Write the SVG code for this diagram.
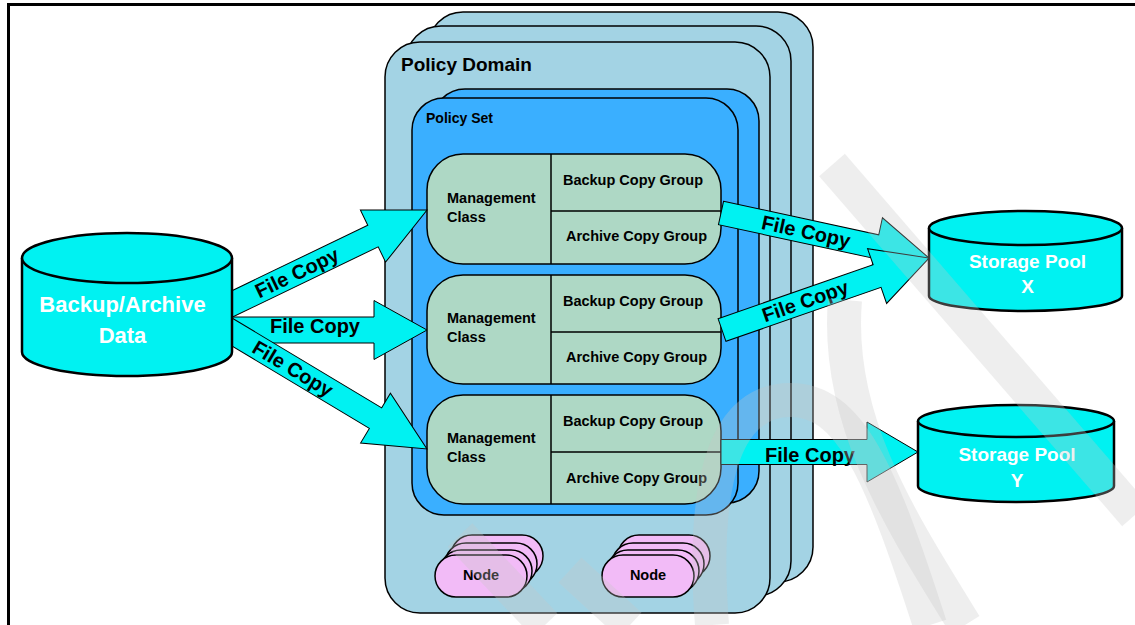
<svg xmlns="http://www.w3.org/2000/svg" width="1135" height="625" viewBox="0 0 1135 625">
<defs>
<style>
.dom{fill:#A3D3E4;stroke:#000;stroke-width:1.5}
.ps{fill:#3AAFFF;stroke:#000;stroke-width:1.5}
.mc{fill:#AED8C5;stroke:#000;stroke-width:1.5}
.div{stroke:#000;stroke-width:1.5;fill:none}
.node{fill:#F2BBF7;stroke:#000;stroke-width:1.5}
.cyl{fill:#00F2F2;stroke:#000;stroke-width:2.5}
.arr{fill:#00F2F2;stroke:#000;stroke-width:1}
.t{font-family:"Liberation Sans",Arial,sans-serif;font-weight:bold;fill:#000}
.w{fill:#fff}
.mct{font-size:14.5px}
.fc{font-size:20px}
.wm{fill:none;stroke:#C8C8C8;stroke-width:34;opacity:0.3}
</style>
</defs>
<rect x="0" y="0" width="1135" height="625" fill="#fff"/>
<path d="M8.5,625 V4.5 H1135" fill="none" stroke="#000" stroke-width="3"/>

<g id="policy-domain">
<rect class="dom" x="428" y="12" width="385" height="570" rx="35"/>
<rect class="dom" x="406" y="26" width="385" height="570" rx="35"/>
<rect class="dom" x="385" y="42" width="385" height="571" rx="35"/>
<text class="t" x="401" y="71" font-size="19">Policy Domain</text>
</g>

<g id="policy-set">
<rect class="ps" x="433" y="89" width="326" height="414" rx="32"/>
<rect class="ps" x="412" y="98" width="326" height="417" rx="32"/>
<text class="t" x="426" y="123" font-size="14">Policy Set</text>
</g>

<g id="mc1">
<rect class="mc" x="427" y="154" width="294" height="110" rx="36"/>
<path class="div" d="M551,154 V264 M551,211 H721"/>
<text class="t mct" x="447" y="203">Management</text>
<text class="t mct" x="447" y="222">Class</text>
<text class="t mct" x="633" y="185" text-anchor="middle">Backup Copy Group</text>
<text class="t mct" x="636.5" y="241" text-anchor="middle">Archive Copy Group</text>
</g>
<g id="mc2">
<rect class="mc" x="427" y="275" width="294" height="109" rx="36"/>
<path class="div" d="M551,275 V384 M551,332 H721"/>
<text class="t mct" x="447" y="323">Management</text>
<text class="t mct" x="447" y="342">Class</text>
<text class="t mct" x="633" y="306" text-anchor="middle">Backup Copy Group</text>
<text class="t mct" x="636.5" y="362" text-anchor="middle">Archive Copy Group</text>
</g>
<g id="mc3">
<rect class="mc" x="427" y="395" width="294" height="109" rx="36"/>
<path class="div" d="M551,395 V504 M551,452 H721"/>
<text class="t mct" x="447" y="443">Management</text>
<text class="t mct" x="447" y="462">Class</text>
<text class="t mct" x="633" y="426" text-anchor="middle">Backup Copy Group</text>
<text class="t mct" x="636.5" y="483" text-anchor="middle">Archive Copy Group</text>
</g>

<g id="node1">
<rect class="node" x="451" y="535" width="92" height="42" rx="21"/>
<rect class="node" x="445" y="543" width="92" height="42" rx="21"/>
<rect class="node" x="440" y="550" width="92" height="42" rx="21"/>
<rect class="node" x="435" y="555" width="92" height="42" rx="21"/>
<text class="t mct" x="481" y="580" text-anchor="middle">Node</text>
</g>
<g id="node2">
<rect class="node" x="618" y="535" width="92" height="42" rx="21"/>
<rect class="node" x="612" y="543" width="92" height="42" rx="21"/>
<rect class="node" x="607" y="550" width="92" height="42" rx="21"/>
<rect class="node" x="602" y="555" width="92" height="42" rx="21"/>
<text class="t mct" x="648" y="580" text-anchor="middle">Node</text>
</g>

<g id="connectors">
<g transform="translate(218.5,310.5) rotate(-25.74)">
<polygon class="arr" points="0,-12 171.5,-12 171.5,-29 231.5,0 171.5,29 171.5,12 0,12"/>
<text class="t fc" x="87" y="7" text-anchor="middle">File Copy</text>
</g>
<g transform="translate(215,330)">
<polygon class="arr" points="0,-13 159,-13 159,-29.5 212,0 159,29.5 159,13 0,13"/>
<text class="t fc" x="100" y="3" text-anchor="middle">File Copy</text>
</g>
<g transform="translate(219.1,324.3) rotate(30.96)">
<polygon class="arr" points="0,-12 182.4,-12 182.4,-29 242.4,0 182.4,29 182.4,12 0,12"/>
<text class="t fc" x="86" y="7" text-anchor="middle">File Copy</text>
</g>
<g transform="translate(721,213) rotate(12.21)">
<polygon class="arr" points="0,-12 158.8,-12 158.8,-29.5 212.8,0 158.8,29.5 158.8,12 0,12"/>
<text class="t fc" x="87" y="7" text-anchor="middle">File Copy</text>
</g>
<g transform="translate(722,330) rotate(-19.18)">
<polygon class="arr" points="0,-12 164.2,-12 164.2,-29 219.2,0 164.2,29 164.2,12 0,12"/>
<text class="t fc" x="88" y="7" text-anchor="middle">File Copy</text>
</g>
<g transform="translate(721,452)">
<polygon class="arr" points="0,-12.5 146,-12.5 146,-30 197,0 146,30 146,12.5 0,12.5"/>
<text class="t fc" x="89" y="10" text-anchor="middle">File Copy</text>
</g>
</g>

<g id="backup-archive-data">
<path class="cyl" d="M22,258 A105,25 0 0 1 232,258 V352 A105,24 0 0 1 22,352 Z"/>
<path class="cyl" d="M22,258 A105,25 0 0 0 232,258" fill="none"/>
<text class="t w" x="122.5" y="312" font-size="22" text-anchor="middle">Backup/Archive</text>
<text class="t w" x="122.5" y="343" font-size="22" text-anchor="middle">Data</text>
</g>
<g id="storage-pool-x">
<path class="cyl" d="M929,228 A96.5,17 0 0 1 1122,228 V296 A96.5,15 0 0 1 929,296 Z"/>
<path class="cyl" d="M929,228 A96.5,17 0 0 0 1122,228" fill="none"/>
<text class="t w" x="1027.5" y="268" font-size="19" text-anchor="middle">Storage Pool</text>
<text class="t w" x="1027.5" y="293" font-size="19" text-anchor="middle">X</text>
</g>
<g id="storage-pool-y">
<path class="cyl" d="M918,421 A98,16 0 0 1 1114,421 V486 A98,16 0 0 1 918,486 Z"/>
<path class="cyl" d="M918,421 A98,16 0 0 0 1114,421" fill="none"/>
<text class="t w" x="1017" y="461" font-size="19" text-anchor="middle">Storage Pool</text>
<text class="t w" x="1017" y="487" font-size="19" text-anchor="middle">Y</text>
</g>

<g id="watermark">
<path class="wm" d="M832,165 L1135,515"/>
<path class="wm" d="M712,625 C700,470 730,400 790,400 C850,400 880,470 930,625"/>
<path class="wm" d="M845,300 C835,420 900,520 965,625"/>
<path class="wm" d="M460,535 L545,625"/>
<path class="wm" d="M570,570 L630,625"/>
</g>
</svg>
